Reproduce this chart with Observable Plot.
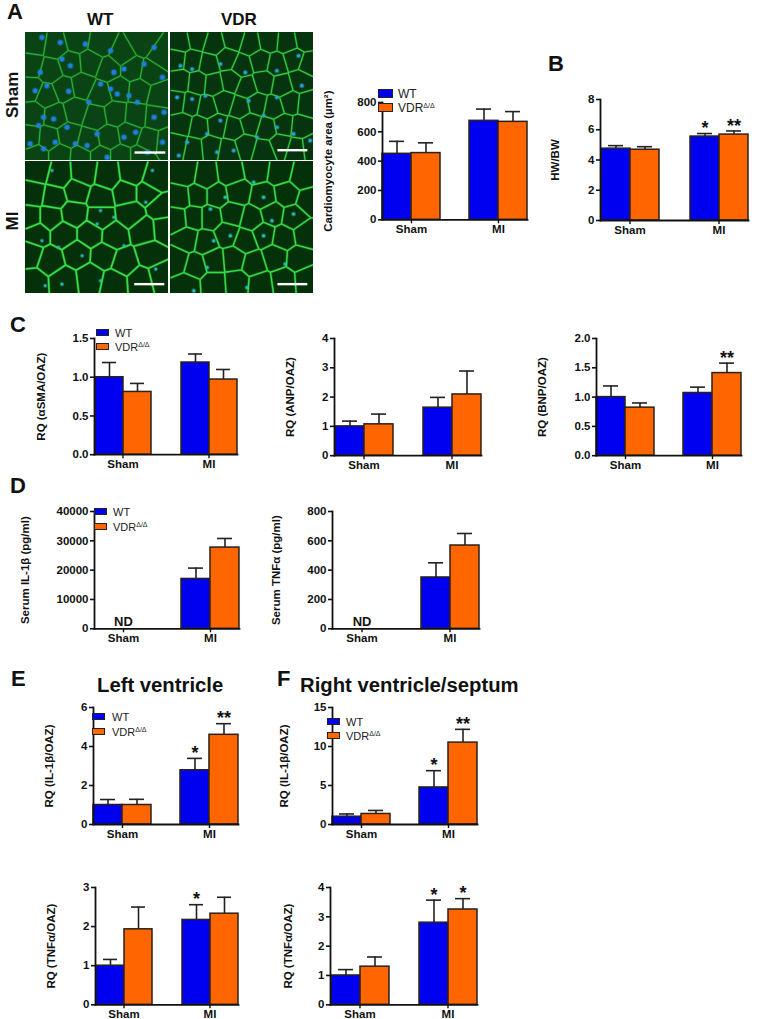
<!DOCTYPE html>
<html><head><meta charset="utf-8">
<script src="https://cdn.jsdelivr.net/npm/d3@7"></script>
<script src="https://cdn.jsdelivr.net/npm/@observablehq/plot@0.6"></script>
<style>
body{margin:0;background:#fff;font-family:"Liberation Sans",Arial,sans-serif;color:#111}
#fig{position:relative;width:767px;height:1019px;overflow:hidden}
.letter{position:absolute;font-weight:700;font-size:22px;line-height:16px}
.title{position:absolute;font-weight:700;font-size:20.3px;line-height:22px;white-space:nowrap}
.imglab{position:absolute;font-weight:700;font-size:17px;line-height:16px;white-space:nowrap}
.sw{position:absolute;box-sizing:border-box;border:1.2px solid #222}
.lg{position:absolute;font-size:11px;line-height:12px;color:#222;white-space:nowrap}
.lg sup{font-size:7px;line-height:0;vertical-align:4px}
svg{display:block;overflow:visible}
</style></head><body><div id="fig"></div>
<script>
const groups = ["Sham", "MI"];
const genotypes = ["WT", "VDR"];
const colors = ["#0000f0", "#ff6600"];

// mean and top of error bar: Sham WT, Sham VDR, MI WT, MI VDR
const areaMean = [450, 455, 675, 668];      const areaTop = [535, 525, 755, 738];
const hwMean = [4.75, 4.68, 5.55, 5.68];    const hwTop = [4.95, 4.88, 5.75, 5.92];
const hwStars = ["", "", "*", "**"];
const smaMean = [1.0, 0.81, 1.19, 0.97];    const smaTop = [1.19, 0.92, 1.30, 1.10];
const anpMean = [1.0, 1.07, 1.64, 2.09];    const anpTop = [1.18, 1.42, 1.99, 2.89];
const bnpMean = [1.0, 0.82, 1.07, 1.41];    const bnpTop = [1.19, 0.90, 1.17, 1.58];
const bnpStars = ["", "", "", "**"];
const serIlMean = [null, null, 17000, 27700]; const serIlTop = [null, null, 20700, 30800];
const serTnfMean = [null, null, 350, 568];  const serTnfTop = [null, null, 450, 650];
const lvIlMean = [1.0, 1.0, 2.78, 4.6];     const lvIlTop = [1.28, 1.29, 3.39, 5.17];
const lvIlStars = ["", "", "*", "**"];
const rvIlMean = [1.0, 1.35, 4.75, 10.5];   const rvIlTop = [1.35, 1.8, 6.9, 12.2];
const rvIlStars = ["", "", "*", "**"];
const lvTnfMean = [1.0, 1.93, 2.17, 2.33];  const lvTnfTop = [1.16, 2.5, 2.56, 2.75];
const lvTnfStars = ["", "", "*", ""];
const rvTnfMean = [1.0, 1.3, 2.8, 3.25];    const rvTnfTop = [1.2, 1.63, 3.57, 3.62];
const rvTnfStars = ["", "", "*", "*"];

// Micrograph traces: cell centres and nuclei, read in a 3x picture coordinate system
const wtShamCells = [[105,125],[165,135],[230,118],[300,130],[365,160],[425,125],[482,165],[95,195],[150,210],[210,190],[270,185],[325,205],[395,205],[450,215],[92,265],[140,285],[190,265],[245,255],[300,280],[355,265],[415,270],[475,285],[100,340],[165,345],[225,330],[285,350],[345,340],[405,345],[465,350],[90,410],[145,415],[205,405],[265,420],[325,410],[385,400],[445,420],[495,425],[110,465],[180,465],[240,470],[300,470],[360,470],[420,470]];
const wtShamNuclei = [[125,110],[180,125],[255,130],[330,150],[460,140],[430,190],[370,205],[340,215],[300,250],[210,195],[120,215],[185,175],[105,270],[140,255],[205,272],[265,305],[330,265],[350,280],[385,285],[485,230],[410,305],[160,355],[130,350],[200,380],[115,375],[90,430],[130,445],[165,425],[225,430],[260,435],[290,400],[370,410],[405,395],[460,350],[490,335],[320,470],[440,455],[485,425]];
const vdrShamCells = [[540,125],[590,115],[640,130],[700,115],[750,130],[805,120],[860,125],[915,115],[530,175],[575,180],[625,190],[680,175],[725,195],[780,180],[830,190],[880,175],[925,190],[540,240],[590,245],[640,250],[690,240],[740,260],[790,245],[845,255],[900,240],[530,305],[570,310],[620,320],[670,305],[720,320],[770,310],[820,320],[870,305],[920,310],[545,370],[595,380],[650,375],[700,385],[750,370],[800,385],[850,375],[900,380],[530,435],[580,445],[630,440],[685,450],[735,435],[790,450],[840,430],[890,445],[930,440]];
const vdrShamNuclei = [[540,195],[575,205],[530,290],[575,295],[615,285],[660,190],[735,215],[830,210],[895,165],[905,255],[830,290],[660,360],[745,300],[790,345],[620,400],[650,455],[560,425],[535,465],[770,410],[830,380],[880,400],[930,420],[700,450]];
const miWtCells = [[115,510],[175,525],[250,520],[320,530],[395,520],[460,540],[100,580],[160,590],[230,570],[300,590],[375,575],[440,575],[90,650],[150,650],[220,640],[300,650],[390,640],[480,620],[110,700],[190,700],[270,700],[340,705],[430,690],[490,685],[90,760],[150,780],[230,760],[310,765],[370,785],[450,760],[100,845],[190,840],[270,830],[340,845],[420,840],[480,825]];
const miWtNuclei = [[155,510],[300,630],[340,650],[435,605],[290,670],[175,740],[245,765],[370,735],[300,840],[185,850],[465,805],[135,855],[455,510],[125,720]];
const miVdrCells = [[555,520],[615,530],[690,520],[770,505],[840,515],[905,530],[540,590],[590,585],[650,585],[710,575],[790,590],[860,580],[925,600],[530,655],[580,650],[630,650],[695,640],[755,655],[815,640],[880,650],[560,715],[615,725],[680,700],[735,720],[790,700],[850,710],[915,700],[530,780],[585,795],[640,780],[700,775],[760,790],[825,770],[895,775],[560,855],[640,850],[710,845],[780,850],[850,840],[920,835]];
const miVdrNuclei = [[760,545],[630,625],[675,590],[790,590],[640,720],[690,705],[790,705],[880,640],[815,660],[855,790],[580,870],[740,860],[620,800]];
const wtShamBar = [[403,495,456]];  const vdrShamBar = [[833,923,449]];
const miWtBar = [[402,492,850]];    const miVdrBar = [[833,923,850]];

const fig = document.getElementById("fig");
function place(node, left, top) {
  node.style.position = "absolute"; node.style.left = left + "px"; node.style.top = top + "px";
  fig.appendChild(node);
}
function html(cls, left, top, content, extra = "") {
  const d = document.createElement("div");
  d.className = cls; d.style.cssText = `left:${left}px;top:${top}px;${extra}`; d.innerHTML = content;
  fig.appendChild(d);
}

function micrograph({left, top, w, h, xd, yd, cells, nuclei, bar, bg, wall, glow, wallWidth, nucleus, nucleusR}) {
  const p = Plot.plot({
    width: w, height: h, margin: 0,
    x: {domain: xd, axis: null}, y: {domain: yd, axis: null},
    style: {background: bg, filter: "blur(0.45px)", overflow: "hidden"},
    marks: [
      Plot.dot(nuclei, {x: d => d[0], y: d => d[1], r: nucleusR + 1, fill: nucleus, fillOpacity: 0.4}),
      Plot.voronoiMesh(cells, {x: d => d[0], y: d => d[1], stroke: glow, strokeWidth: wallWidth + 1.4, strokeOpacity: 0.5}),
      Plot.voronoiMesh(cells, {x: d => d[0], y: d => d[1], stroke: wall, strokeWidth: wallWidth, strokeOpacity: 1}),
      Plot.dot(nuclei, {x: d => d[0], y: d => d[1], r: nucleusR, fill: nucleus}),
      Plot.ruleY(bar, {x1: d => d[0], x2: d => d[1], y: d => d[2], stroke: "#fff", strokeWidth: 2.4})
    ]
  });
  place(p, left, top);
}

function rowsOf(mean, top, stars) {
  return mean.map((v, i) => ({
    group: groups[i >> 1], genotype: genotypes[i % 2], v, top: top[i], star: stars ? stars[i] : ""
  })).filter(d => d.v != null);
}

function chart({axisX, xEnd, yTop, y0, yMax, ticks, label, labelOffset, mean, top, stars, fmt = d3.format("d"), nd}) {
  const mL = 80, mR = 4, mT = 24, mB = 24;
  const rows = rowsOf(mean, top, stars);
  const starRows = rows.filter(d => d.star);
  const p = Plot.plot({
    width: xEnd - axisX + mL + mR, height: y0 - yTop + mT + mB,
    marginLeft: mL, marginRight: mR, marginTop: mT, marginBottom: mB,
    style: {fontFamily: "'Liberation Sans',Arial,sans-serif", fontSize: "11.5px", background: "transparent", color: "#111"},
    fx: {domain: groups, paddingInner: 1 / 3, paddingOuter: 0.18, axis: null, label: null},
    x: {domain: genotypes, padding: 0, axis: null},
    y: {domain: [0, yMax], axis: null},
    color: {domain: genotypes, range: colors},
    marks: [
      Plot.ruleX(rows, {fx: "group", x: "genotype", y1: "v", y2: "top", stroke: "#222", strokeWidth: 1.6}),
      Plot.tickY(rows, {fx: "group", x: "genotype", y: "top", stroke: "#222", strokeWidth: 1.6, insetLeft: 7, insetRight: 7}),
      Plot.barY(rows, {fx: "group", x: "genotype", y: "v", fill: "genotype", stroke: "#2a2118", strokeWidth: 1.5}),
      Plot.text(starRows, {fx: "group", x: "genotype", y: "top", text: "star", dy: -5, fontSize: 18, fontWeight: 700, lineAnchor: "middle", fill: "#111"}),
      nd ? Plot.text(groups.slice(0, 1), {fx: d => d, y: () => 0, text: () => "ND", dy: -7, fontSize: 13, fontWeight: 700, fill: "#111"}) : null,
      Plot.axisFx({anchor: "bottom", label: null, tickSize: 4, tickPadding: 1, fontSize: 11.5, fontWeight: 700, strokeWidth: 1.4}),
      Plot.axisY({anchor: "left", ticks, tickFormat: fmt, tickSize: 4, tickPadding: 2, strokeWidth: 1.6, fontSize: 11.5, fontWeight: 700,
        label, labelAnchor: "center", labelArrow: "none", labelOffset}),
      Plot.frame({facet: "super", anchor: "bottom", stroke: "#111", strokeWidth: 1.8}),
      Plot.frame({facet: "super", anchor: "left", stroke: "#111", strokeWidth: 1.8})
    ]
  });
  place(p, axisX - mL, yTop - mT);
}

function legend(x, w, y1, y2, h, size, tx) {
  html("sw", x, y1, "", `width:${w}px;height:${h}px;background:${colors[0]}`);
  html("sw", x, y2, "", `width:${w}px;height:${h}px;background:${colors[1]}`);
  html("lg", tx, y1 + h / 2 - 6, "WT", `font-size:${size}px`);
  html("lg", tx, y2 + h / 2 - 6, "VDR<sup>Δ/Δ</sup>", `font-size:${size}px`);
}

// Panel A micrographs
micrograph({left: 25, top: 32, w: 143, h: 128, xd: [76, 503], yd: [480, 95], cells: wtShamCells, nuclei: wtShamNuclei, bar: wtShamBar,
  bg: "#0a4414", wall: "#2bb53a", glow: "#1d8a2a", wallWidth: 1, nucleus: "#1f7fe0", nucleusR: 2.3});
micrograph({left: 170, top: 32, w: 143, h: 128, xd: [510, 940], yd: [480, 95], cells: vdrShamCells, nuclei: vdrShamNuclei, bar: vdrShamBar,
  bg: "#06340e", wall: "#35d045", glow: "#1d8a2a", wallWidth: 1.1, nucleus: "#2ea2d8", nucleusR: 1.6});
micrograph({left: 25, top: 161, w: 143, h: 132, xd: [76, 503], yd: [878, 483], cells: miWtCells, nuclei: miWtNuclei, bar: miWtBar,
  bg: "#04300a", wall: "#38e048", glow: "#1e9a2c", wallWidth: 1.6, nucleus: "#2fb0b8", nucleusR: 1.3});
micrograph({left: 170, top: 161, w: 143, h: 132, xd: [510, 940], yd: [878, 483], cells: miVdrCells, nuclei: miVdrNuclei, bar: miVdrBar,
  bg: "#04300a", wall: "#38dc48", glow: "#1e9a2c", wallWidth: 1.4, nucleus: "#2fb8b8", nucleusR: 1.5});

// Charts
chart({axisX: 365, xEnd: 543, yTop: 101.7, y0: 219, yMax: 800, ticks: [0,200,400,600,800], label: "Cardiomyocyte area (µm²)", labelOffset: 59, mean: areaMean, top: areaTop});
chart({axisX: 583, xEnd: 765, yTop: 99, y0: 220, yMax: 8, ticks: [0,2,4,6,8], label: "HW/BW", labelOffset: 50, mean: hwMean, top: hwTop, stars: hwStars});
chart({axisX: 77.7, xEnd: 254, yTop: 338.3, y0: 454.5, yMax: 1.5, ticks: [0,0.5,1,1.5], fmt: d3.format(".1f"), label: "RQ (αSMA/OAZ)", labelOffset: 58, mean: smaMean, top: smaTop});
chart({axisX: 318.3, xEnd: 497, yTop: 338.3, y0: 455.5, yMax: 4, ticks: [0,1,2,3,4], label: "RQ (ANP/OAZ)", labelOffset: 49, mean: anpMean, top: anpTop});
chart({axisX: 580, xEnd: 757, yTop: 338.3, y0: 455.5, yMax: 2, ticks: [0,0.5,1,1.5,2], fmt: d3.format(".1f"), label: "RQ (BNP/OAZ)", labelOffset: 59, mean: bnpMean, top: bnpTop, stars: bnpStars});
chart({axisX: 78.3, xEnd: 255.7, yTop: 510.7, y0: 628, yMax: 40000, ticks: [0,10000,20000,30000,40000], label: "Serum IL-1β (pg/ml)", labelOffset: 74, mean: serIlMean, top: serIlTop, nd: true});
chart({axisX: 316, xEnd: 495, yTop: 510.7, y0: 628, yMax: 800, ticks: [0,200,400,600,800], label: "Serum TNFα (pg/ml)", labelOffset: 61, mean: serTnfMean, top: serTnfTop, nd: true});
chart({axisX: 77.3, xEnd: 255, yTop: 707, y0: 824, yMax: 6, ticks: [0,2,4,6], label: "RQ (IL-1β/OAZ)", labelOffset: 49, mean: lvIlMean, top: lvIlTop, stars: lvIlStars});
chart({axisX: 315, xEnd: 493, yTop: 707, y0: 824, yMax: 15, ticks: [0,5,10,15], label: "RQ (IL-1β/OAZ)", labelOffset: 53, mean: rvIlMean, top: rvIlTop, stars: rvIlStars});
chart({axisX: 79, xEnd: 255, yTop: 886.7, y0: 1004, yMax: 3, ticks: [0,1,2,3], label: "RQ (TNFα/OAZ)", labelOffset: 49, mean: lvTnfMean, top: lvTnfTop, stars: lvTnfStars});
chart({axisX: 314, xEnd: 493.3, yTop: 886.7, y0: 1004, yMax: 4, ticks: [0,1,2,3,4], label: "RQ (TNFα/OAZ)", labelOffset: 47, mean: rvTnfMean, top: rvTnfTop, stars: rvTnfStars});

// Legends
legend(378, 15, 89, 103, 9, 12, 398);
legend(96, 13, 329, 343, 7, 11, 115);
legend(94, 13, 508, 523, 7, 11, 113);
legend(92, 13, 713, 728, 7, 11, 112);
legend(327, 13, 718, 732, 7, 11, 346);

// Letters, titles, micrograph labels
[["A",7,4],["B",548,56],["C",10,317],["D",10,478],["E",11,671],["F",277,671]].forEach(([t,x,y]) => html("letter", x, y, t));
html("title", 97, 674, "Left ventricle");
html("title", 300, 674, "Right ventricle/septum");
html("imglab", 87, 12, "WT");
html("imglab", 221, 12, "VDR");
html("imglab", -7, 98, "Sham", "transform:rotate(-90deg);transform-origin:50% 50%;width:40px;text-align:center;margin-top:-8px");
html("imglab", -7, 221, "MI", "transform:rotate(-90deg);transform-origin:50% 50%;width:40px;text-align:center;margin-top:-8px");
</script></body></html>
